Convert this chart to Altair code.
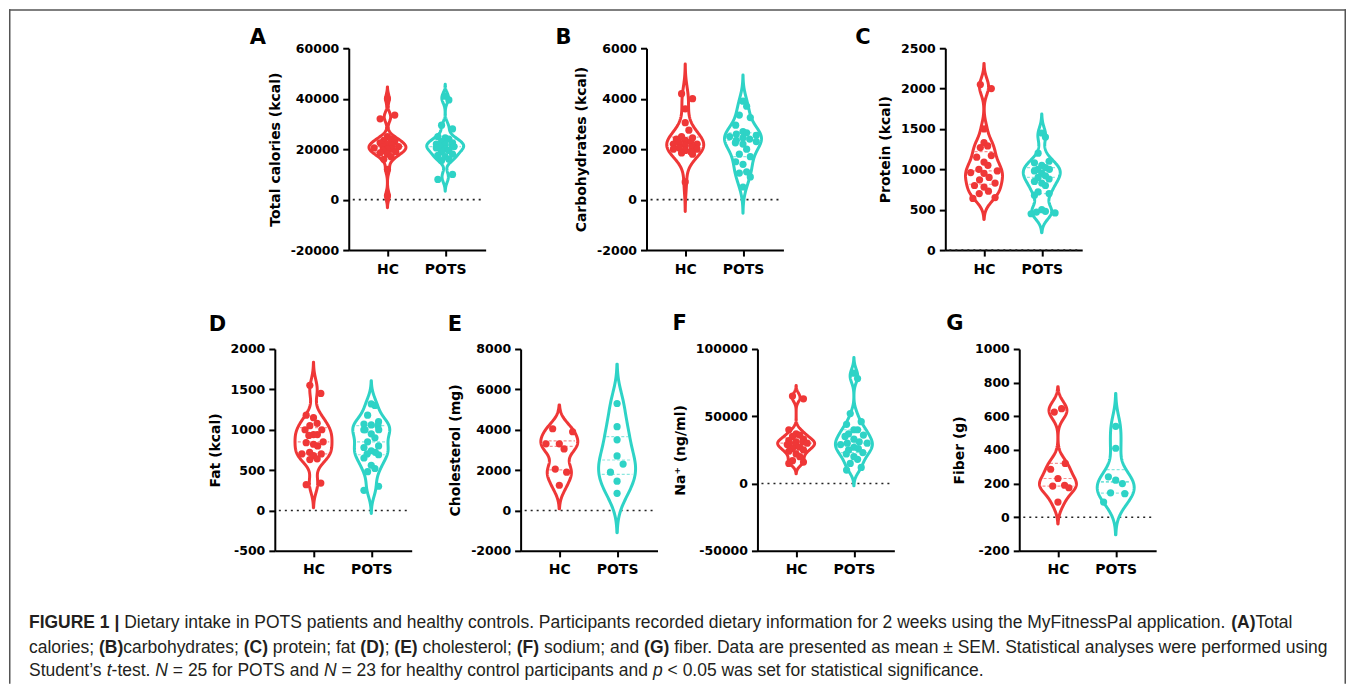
import altair as alt
import pandas as pd

# ---------------- data ----------------
GROUPS = ["HC", "POTS"]
GROUP_POS = [1, 2]
GROUP_COLORS = ["#EF3737", "#2ED3C6"]

A_HC = [40000, 33500, 32000, 25000, 24000, 23500, 23000, 22500, 22000, 21500, 21000, 21000,
        20500, 20000, 20000, 19500, 19000, 18500, 18000, 17000, 16000, 12000, 1500]
A_POTS = [41000, 39500, 29500, 28000, 25000, 24500, 24000, 23000, 22500, 22000, 22000, 21500,
          21000, 21000, 20500, 20000, 19500, 19000, 18000, 17500, 17000, 16000, 15500, 10000, 8000]

B_HC = [4200, 4000, 3600, 3050, 2750, 2500, 2450, 2400, 2350, 2300, 2250, 2200, 2200, 2150,
        2100, 2050, 2000, 2000, 1950, 1900, 1850, 1800, 700]
B_POTS = [3900, 3700, 3350, 3250, 2950, 2700, 2650, 2600, 2550, 2500, 2450, 2400, 2350, 2300,
          2250, 2200, 2000, 1800, 1700, 1500, 1400, 1100, 1050, 900, 500]

C_HC = [2050, 2000, 1500, 1330, 1290, 1270, 1170, 1150, 1090, 1050, 1000, 980, 960, 950, 900,
        870, 830, 800, 780, 730, 700, 650, 640]
C_POTS = [1450, 1400, 1200, 1100, 1080, 1050, 1020, 1000, 1000, 980, 950, 920, 900, 880, 850,
          830, 800, 720, 700, 680, 500, 480, 470, 460, 450]

D_HC = [1550, 1450, 1180, 1150, 1080, 1050, 1000, 1000, 940, 940, 930, 850, 840, 820, 800, 720,
        700, 700, 680, 640, 630, 340, 320]
D_POTS = [1320, 1300, 1180, 1100, 1070, 1060, 1050, 1000, 1000, 1000, 950, 900, 850, 800, 780,
          740, 720, 700, 690, 650, 560, 520, 480, 300, 250]

E_HC = [4050, 3900, 3300, 3300, 3050, 2050, 1900, 1250]
E_POTS = [5300, 4150, 3500, 2700, 2300, 1900, 1450, 850]

F_HC = [65000, 63000, 40000, 37000, 36000, 35000, 33000, 32000, 31000, 31000, 30000, 30000,
        29000, 28000, 27000, 26000, 25000, 24000, 22000, 20000, 17000, 16000, 15000]
F_POTS = [82000, 78000, 52000, 46000, 44000, 40000, 40000, 37000, 36000, 35000, 33000, 31000,
          30000, 30000, 29000, 27000, 26000, 25000, 23000, 22000, 20000, 18000, 15000, 12000, 10000]

G_HC = [645, 625, 320, 285, 230, 190, 185, 175, 90]
G_POTS = [540, 410, 240, 220, 200, 145, 140, 90]

LETTERS = ["A", "B", "C", "D", "E", "F", "G"]
Y_TITLES = ["Total calories (kcal)", "Carbohydrates (kcal)", "Protein (kcal)", "Fat (kcal)",
            "Cholesterol (mg)", "Na\u207a (ng/ml)", "Fiber (g)"]
VALUES = [(A_HC, A_POTS), (B_HC, B_POTS), (C_HC, C_POTS), (D_HC, D_POTS),
          (E_HC, E_POTS), (F_HC, F_POTS), (G_HC, G_POTS)]
Y_DOMAINS = [[-20000, 60000], [-2000, 6000], [0, 2500], [-500, 2000], [-2000, 8000],
             [-50000, 100000], [-200, 1000]]
Y_TICKS = [[-20000, 0, 20000, 40000, 60000], [-2000, 0, 2000, 4000, 6000],
           [0, 500, 1000, 1500, 2000, 2500], [-500, 0, 500, 1000, 1500, 2000],
           [-2000, 0, 2000, 4000, 6000, 8000], [-50000, 0, 50000, 100000],
           [-200, 0, 200, 400, 600, 800, 1000]]

CAPTION = [
    [("FIGURE 1 | ", "b"),
     ("Dietary intake in POTS patients and healthy controls. Participants recorded dietary "
      "information for 2 weeks using the MyFitnessPal application. ", "n"),
     ("(A)", "b"), ("Total", "n")],
    [("calories; ", "n"), ("(B)", "b"), ("carbohydrates; ", "n"), ("(C)", "b"),
     (" protein; fat ", "n"), ("(D)", "b"), ("; ", "n"), ("(E)", "b"), (" cholesterol; ", "n"),
     ("(F)", "b"), (" sodium; and ", "n"), ("(G)", "b"),
     (" fiber. Data are presented as mean \u00b1 SEM. Statistical analyses were performed using", "n")],
    [("Student\u2019s ", "n"), ("t", "i"), ("-test. ", "n"), ("N", "i"), (" = 25 for POTS and ", "n"),
     ("N", "i"), (" = 23 for healthy control participants and ", "n"), ("p", "i"),
     (" < 0.05 was set for statistical significance.", "n")],
]

# ---------------- styling / layout ----------------
W, H = 1338, 675
PANEL_LEFT = [340, 638, 937, 266, 512, 749, 1011]
PANEL_TOP = [39, 39, 39, 340, 340, 340, 340]
PW, PH = 137, 202
LETTER_XY = [(241, 35), (547, 35), (847, 35), (200, 322), (439, 322), (664, 321), (938, 321)]
BANDWIDTHS = [(1800, 1800), (450, 400), (100, 90), (110, 110), (450, 750), (3000, 4500), (50, 75)]
X_DOMAIN = [0.33, 2.7]
HALF_W = 0.32
FONT = "DejaVu Sans"

# Helvetica/Arial advance widths (1/1000 em) for caption layout
REG = {}
for ch in "abdeghnopqu0123456789":
    REG[ch] = 556
for ch in "ckvsxyz":
    REG[ch] = 500
for ch in "ft ,.;:":
    REG[ch] = 278
for ch in "ijl":
    REG[ch] = 222
REG.update({"m": 833, "r": 333, "w": 722, "(": 333, ")": 333, "-": 333, "=": 584, "<": 584,
            "\u00b1": 584, "\u2019": 222, "|": 260, "A": 667, "B": 667, "C": 722, "D": 722,
            "E": 667, "F": 611, "G": 778, "H": 722, "I": 278, "J": 500, "K": 667, "L": 556,
            "M": 833, "N": 722, "O": 778, "P": 667, "Q": 778, "R": 722, "S": 667, "T": 611,
            "U": 722, "V": 667, "W": 944, "X": 667, "Y": 667, "Z": 611})
BOLD = dict(REG)
BOLD.update({"A": 722, "B": 722, "C": 722, "D": 722, "E": 667, "F": 611, "G": 778, "I": 278,
             "R": 722, "U": 722, "|": 280})


def em(s, style):
    tbl = BOLD if style == "b" else REG
    return sum(tbl.get(c, 556) for c in s) / 1000.0


CAP_X0 = 20
CAP_BASELINES = [619, 644, 667]
CAP_FS = round(1266 / sum(em(t, s) for t, s in CAPTION[0]), 2)

rows = []
for li, line in enumerate(CAPTION):
    x = CAP_X0
    for t, s in line:
        lead = len(t) - len(t.lstrip(" "))
        rows.append({"t": t.strip(" "), "style": s, "x": x + em(" " * lead, s) * CAP_FS,
                     "y": CAP_BASELINES[li]})
        x += em(t, s) * CAP_FS
cap_df = pd.DataFrame(rows)


def panel(i):
    hc, pots = VALUES[i]
    df = pd.DataFrame({"group": ["HC"] * len(hc) + ["POTS"] * len(pots), "v": hc + pots})
    lo_d, hi_d = Y_DOMAINS[i]
    left, top = PANEL_LEFT[i], PANEL_TOP[i]
    xs = alt.Scale(domain=X_DOMAIN, range=[left, left + PW], nice=False, zero=False)
    ys = alt.Scale(domain=Y_DOMAINS[i], range=[top + PH, top], nice=False, zero=False)
    xax = alt.Axis(values=GROUP_POS, labelExpr="datum.value == 1 ? 'HC' : 'POTS'", title=None,
                   orient="bottom", offset=-(H - (top + PH)))
    yax = alt.Axis(values=Y_TICKS[i], labelExpr="'' + datum.value", title=Y_TITLES[i],
                   orient="left", offset=-left)
    base = alt.Chart(df)

    layers = []
    zero = alt.Chart(pd.DataFrame({"z": [0]})).mark_rule(
        color="#222222", strokeWidth=1.6, strokeDash=[2, 4]).encode(
        y=alt.Y("z:Q", scale=ys, axis=yax),
        x=alt.X(datum=0.40, type="quantitative", scale=xs, axis=xax),
        x2=alt.datum(2.68))
    layers.append(zero)

    qlayers = []
    for g, pos, col, bw, vals in zip(GROUPS, GROUP_POS, GROUP_COLORS, BANDWIDTHS[i], (hc, pots)):
        ext = [min(vals) - 2.6 * bw, max(vals) + 2.6 * bw]
        gb = (base.transform_filter(alt.datum.group == g)
              .transform_joinaggregate(q1="q1(v)", med="median(v)", q3="q3(v)")
              .transform_density("v", as_=["vv", "density"], bandwidth=bw, extent=ext,
                                 steps=220, groupby=["q1", "med", "q3"])
              .transform_joinaggregate(maxd="max(density)")
              .transform_calculate(lo=f"{pos} - {HALF_W} * datum.density / datum.maxd",
                                   hi=f"{pos} + {HALF_W} * datum.density / datum.maxd"))
        area = gb.mark_area(orient="horizontal", fill="white", stroke=col, strokeWidth=3,
                            strokeJoin="round").encode(
            y=alt.Y("vv:Q", scale=ys, axis=yax),
            x=alt.X("lo:Q", scale=xs, axis=xax),
            x2="hi:Q")
        layers.append(area)
        ql = (gb.transform_fold(["q1", "med", "q3"], as_=["qn", "qv"])
              .transform_calculate(dist="abs(datum.vv - datum.qv)")
              .transform_joinaggregate(mind="min(dist)", groupby=["qn"])
              .transform_filter("datum.dist == datum.mind")
              .transform_calculate(l2=f"{pos} - 0.85 * ({pos} - datum.lo)",
                                   h2=f"{pos} + 0.85 * (datum.hi - {pos})")
              .mark_rule(color=col, strokeWidth=1.2, strokeDash=[3, 2], opacity=0.55)
              .encode(y=alt.Y("qv:Q", scale=ys, axis=yax),
                      x=alt.X("l2:Q", scale=xs, axis=xax), x2="h2:Q"))
        qlayers.append(ql)
    layers += qlayers

    minspan = 0.01 * (hi_d - lo_d)
    thr = 9.0 / PH * (hi_d - lo_d)
    dots = (base.transform_window(rn="row_number()", cnt="count()", vmin="min(v)", vmax="max(v)",
                                  frame=[-2, 2], sort=[alt.SortField("v", order="ascending")],
                                  groupby=["group"])
            .transform_window(prev="lag(v)", nxt="lead(v)",
                              sort=[alt.SortField("v", order="ascending")], groupby=["group"])
            .transform_calculate(dens=f"(datum.cnt - 1) / max(datum.vmax - datum.vmin, {minspan})")
            .transform_joinaggregate(maxdens="max(dens)", groupby=["group"])
            .transform_calculate(
                iso=f"(!isValid(datum.prev) || datum.v - datum.prev > {thr}) && "
                    f"(!isValid(datum.nxt) || datum.nxt - datum.v > {thr})")
            .transform_calculate(
                xp=f"(datum.group == 'HC' ? 1 : 2) + (datum.iso ? 0 : {HALF_W} * "
                   "max(datum.dens / datum.maxdens, 0.55) * "
                   "[0, -0.72, 0.72, -0.36, 0.36][datum.rn % 5])")
            .mark_circle(size=52, opacity=1)
            .encode(y=alt.Y("v:Q", scale=ys, axis=yax),
                    x=alt.X("xp:Q", scale=xs, axis=xax),
                    color=alt.Color("group:N", scale=alt.Scale(domain=GROUPS, range=GROUP_COLORS),
                                    legend=None)))
    layers.append(dots)

    lx, ly = LETTER_XY[i]
    letter = alt.Chart(pd.DataFrame({"a": [0]})).mark_text(
        text=LETTERS[i], font=FONT, fontWeight="bold", fontSize=21, color="black",
        align="left", baseline="alphabetic").encode(x=alt.value(lx), y=alt.value(ly))
    layers.append(letter)
    return alt.layer(*layers)


# caption + figure frame
one = pd.DataFrame({"a": [0]})
frame_col = "#555555"
cap_layers = [
    alt.Chart(one).mark_rule(color=frame_col, strokeWidth=1.5).encode(
        x=alt.value(0), x2=alt.value(W), y=alt.value(0.75)),
    alt.Chart(one).mark_rule(color=frame_col, strokeWidth=1.5).encode(
        x=alt.value(0.75), y=alt.value(0), y2=alt.value(H)),
    alt.Chart(one).mark_rule(color=frame_col, strokeWidth=1.5).encode(
        x=alt.value(W - 0.75), y=alt.value(0), y2=alt.value(H)),
]
cap_x = alt.X("x:Q", scale=alt.Scale(domain=[0, W], range=[0, W]), axis=None)
cap_y = alt.Y("y:Q", scale=alt.Scale(domain=[0, H], range=[0, H]), axis=None)
for s, kw in [("n", {}), ("b", {"fontWeight": "bold"}), ("i", {"fontStyle": "italic"})]:
    cap_layers.append(
        alt.Chart(cap_df).transform_filter(alt.datum.style == s).mark_text(
            align="left", baseline="alphabetic", font="Liberation Sans", fontSize=CAP_FS,
            color="#231F20", **kw).encode(x=cap_x, y=cap_y, text="t:N"))
caption = alt.layer(*cap_layers)

chart = alt.layer(*[panel(i) for i in range(7)], caption).resolve_scale(
    x="independent", y="independent").resolve_axis(x="independent", y="independent").properties(
    width=W, height=H, padding=0, background="white"
).configure_view(strokeWidth=0).configure_axis(
    domainColor="black", domainWidth=2, tickColor="black", tickWidth=2, tickSize=6,
    labelFont=FONT, labelFontWeight="bold", labelFontSize=12.5, labelColor="black",
    titleFont=FONT, titleFontWeight="bold", titleFontSize=14, titleColor="black",
    grid=False, labelPadding=4, titlePadding=8
).configure_axisX(labelFontSize=14, labelPadding=6)

chart.save("out.html", embed_options={"renderer": "svg", "actions": False})
